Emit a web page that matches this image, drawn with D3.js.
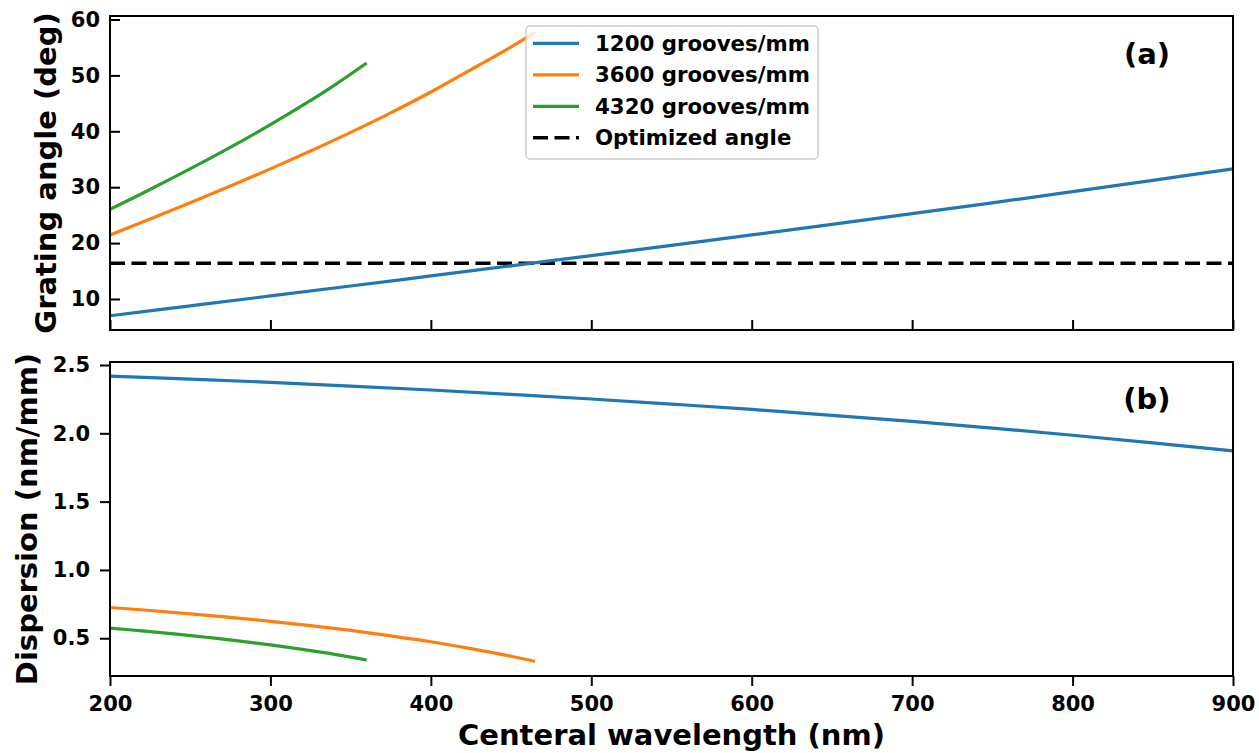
<!DOCTYPE html>
<html>
<head>
<meta charset="utf-8">
<script src="https://cdn.jsdelivr.net/npm/d3@7"></script>
<style>
  body { margin: 0; background: #fff; }
  text { font-family: "DejaVu Sans", sans-serif; font-weight: bold; }
</style>
</head>
<body>
<svg id="chart"></svg>
<script>
// values
const wl1200 = [200, 250, 300, 350, 400, 450, 500, 550, 600, 650, 700, 750, 800, 850, 900];
const angle1200 = [7.00, 8.77, 10.54, 12.32, 14.12, 15.93, 17.75, 19.60, 21.46, 23.35, 25.27, 27.21, 29.20, 31.22, 33.28];
const disp1200 = [2.419, 2.397, 2.373, 2.346, 2.317, 2.285, 2.251, 2.214, 2.175, 2.132, 2.087, 2.038, 1.986, 1.930, 1.871];

const wl3600 = [200, 225, 250, 275, 300, 325, 350, 375, 400, 425, 450, 465];
const angle3600 = [21.46, 24.30, 27.21, 30.20, 33.28, 36.48, 39.81, 43.31, 47.03, 51.03, 55.10, 57.70];
const disp3600 = [0.725, 0.703, 0.679, 0.653, 0.624, 0.592, 0.557, 0.517, 0.474, 0.424, 0.368, 0.330];

const wl4320 = [200, 220, 240, 260, 280, 300, 320, 340, 360];
const angle4320 = [26.04, 28.88, 31.79, 34.80, 37.92, 41.19, 44.62, 48.27, 52.21];
const disp4320 = [0.574, 0.554, 0.532, 0.507, 0.481, 0.451, 0.418, 0.382, 0.341];

const optimizedAngle = 16.4;

const seriesNames = ["1200 grooves/mm", "3600 grooves/mm", "4320 grooves/mm"];
const legendNames = seriesNames.concat(["Optimized angle"]);
const colors = ["#1f77b4", "#ff7f0e", "#2ca02c"];

const xTicks = [200, 300, 400, 500, 600, 700, 800, 900];
const angleTicks = [10, 20, 30, 40, 50, 60];
const dispTicks = [0.5, 1.0, 1.5, 2.0, 2.5];

const W = 1259, H = 753;
const left = 110, right = 1233;

const svg = d3.select("#chart").attr("width", W).attr("height", H);

const xscale = d3.scaleLinear().domain([200, 900]).range([left, right]);

function zip(xs, ys) { return xs.map((x, i) => ({x: x, y: ys[i]})); }

function drawPanel(opt) {
    const yscale = d3.scaleLinear().domain(opt.domain).range([opt.bottom, opt.top]);
    const g = svg.append("g");

    const clipId = "clip-" + opt.name;
    svg.append("clipPath").attr("id", clipId)
        .append("rect")
        .attr("x", left).attr("y", opt.top)
        .attr("width", right - left).attr("height", opt.bottom - opt.top);

    const plot = g.append("g").attr("clip-path", `url(#${clipId})`);

    const line = d3.line()
        .x(d => xscale(d.x))
        .y(d => yscale(d.y))
        .curve(d3.curveCatmullRom);

    if (opt.hline != null) {
        plot.append("line")
            .attr("x1", left).attr("x2", right)
            .attr("y1", yscale(opt.hline)).attr("y2", yscale(opt.hline))
            .attr("stroke", "black")
            .attr("stroke-width", 3.4)
            .attr("stroke-dasharray", "15,6.5");
    }

    opt.series.forEach((s, i) => {
        plot.append("path")
            .attr("d", line(s))
            .attr("fill", "none")
            .attr("stroke", colors[i])
            .attr("stroke-width", 3.2);
    });

    // axes
    const tin = opt.inward;
    const yaxis = d3.axisLeft(yscale)
        .tickValues(opt.ticks)
        .tickFormat(opt.fmt)
        .tickSizeInner(tin ? -10 : 10)
        .tickSizeOuter(0)
        .tickPadding(10);
    const yg = g.append("g").attr("transform", `translate(${left},0)`).call(yaxis);

    const xaxis = d3.axisBottom(xscale)
        .tickValues(xTicks)
        .tickSizeInner(tin ? -10 : 10)
        .tickSizeOuter(0)
        .tickPadding(10);
    const xg = g.append("g").attr("transform", `translate(0,${opt.bottom})`).call(xaxis);
    if (!opt.xlabels) xg.selectAll(".tick text").remove();

    [yg, xg].forEach(a => {
        a.select(".domain").remove();
        a.selectAll(".tick line").attr("stroke", "black").attr("stroke-width", 2);
        a.selectAll(".tick text").attr("fill", "black")
            .style("font-size", "21px")
            .style("font-family", "DejaVu Sans")
            .style("font-weight", "bold");
    });

    g.append("rect")
        .attr("x", left).attr("y", opt.top)
        .attr("width", right - left).attr("height", opt.bottom - opt.top)
        .attr("fill", "none").attr("stroke", "black").attr("stroke-width", 2);

    g.append("text")
        .attr("transform", `translate(${opt.ylabelX},${(opt.top + opt.bottom) / 2}) rotate(-90)`)
        .attr("text-anchor", "middle")
        .attr("font-size", 29)
        .text(opt.ylabel);

    g.append("text")
        .attr("x", 1147).attr("y", opt.top + opt.tagY)
        .attr("text-anchor", "middle")
        .attr("font-size", 29)
        .text(opt.tag);

    return g;
}

drawPanel({
    name: "a", top: 16, bottom: 330, domain: [4.45, 60.63],
    ticks: angleTicks, fmt: d3.format("d"), inward: true, xlabels: false,
    series: [zip(wl1200, angle1200), zip(wl3600, angle3600), zip(wl4320, angle4320)],
    hline: optimizedAngle,
    ylabel: "Grating angle (deg)", ylabelX: 56, tag: "(a)", tagY: 48
});

drawPanel({
    name: "b", top: 362, bottom: 676, domain: [0.2236, 2.522],
    ticks: dispTicks, fmt: d3.format(".1f"), inward: false, xlabels: true,
    series: [zip(wl1200, disp1200), zip(wl3600, disp3600), zip(wl4320, disp4320)],
    hline: null,
    ylabel: "Dispersion (nm/mm)", ylabelX: 37, tag: "(b)", tagY: 47
});

svg.append("text")
    .attr("x", (left + right) / 2).attr("y", 745)
    .attr("text-anchor", "middle")
    .attr("font-size", 29)
    .text("Centeral wavelength (nm)");

// legend
const legend = svg.append("g").attr("transform", "translate(526,26)");
legend.append("rect")
    .attr("width", 292).attr("height", 133).attr("rx", 4)
    .attr("fill", "white").attr("fill-opacity", 0.8)
    .attr("stroke", "#cccccc").attr("stroke-width", 1.5);

const rows = legend.selectAll("g.row").data(legendNames).enter()
    .append("g").attr("class", "row")
    .attr("transform", (d, i) => `translate(0,${17.3 + i * 31.5})`);

rows.append("line")
    .attr("x1", 7).attr("x2", 53)
    .attr("stroke", (d, i) => i < 3 ? colors[i] : "black")
    .attr("stroke-width", (d, i) => i < 3 ? 3.2 : 3.4)
    .attr("stroke-dasharray", (d, i) => i < 3 ? null : "15,6.5");

rows.append("text")
    .attr("x", 69).attr("dy", "0.35em")
    .attr("font-size", 21.3)
    .text(d => d);
</script>
</body>
</html>
